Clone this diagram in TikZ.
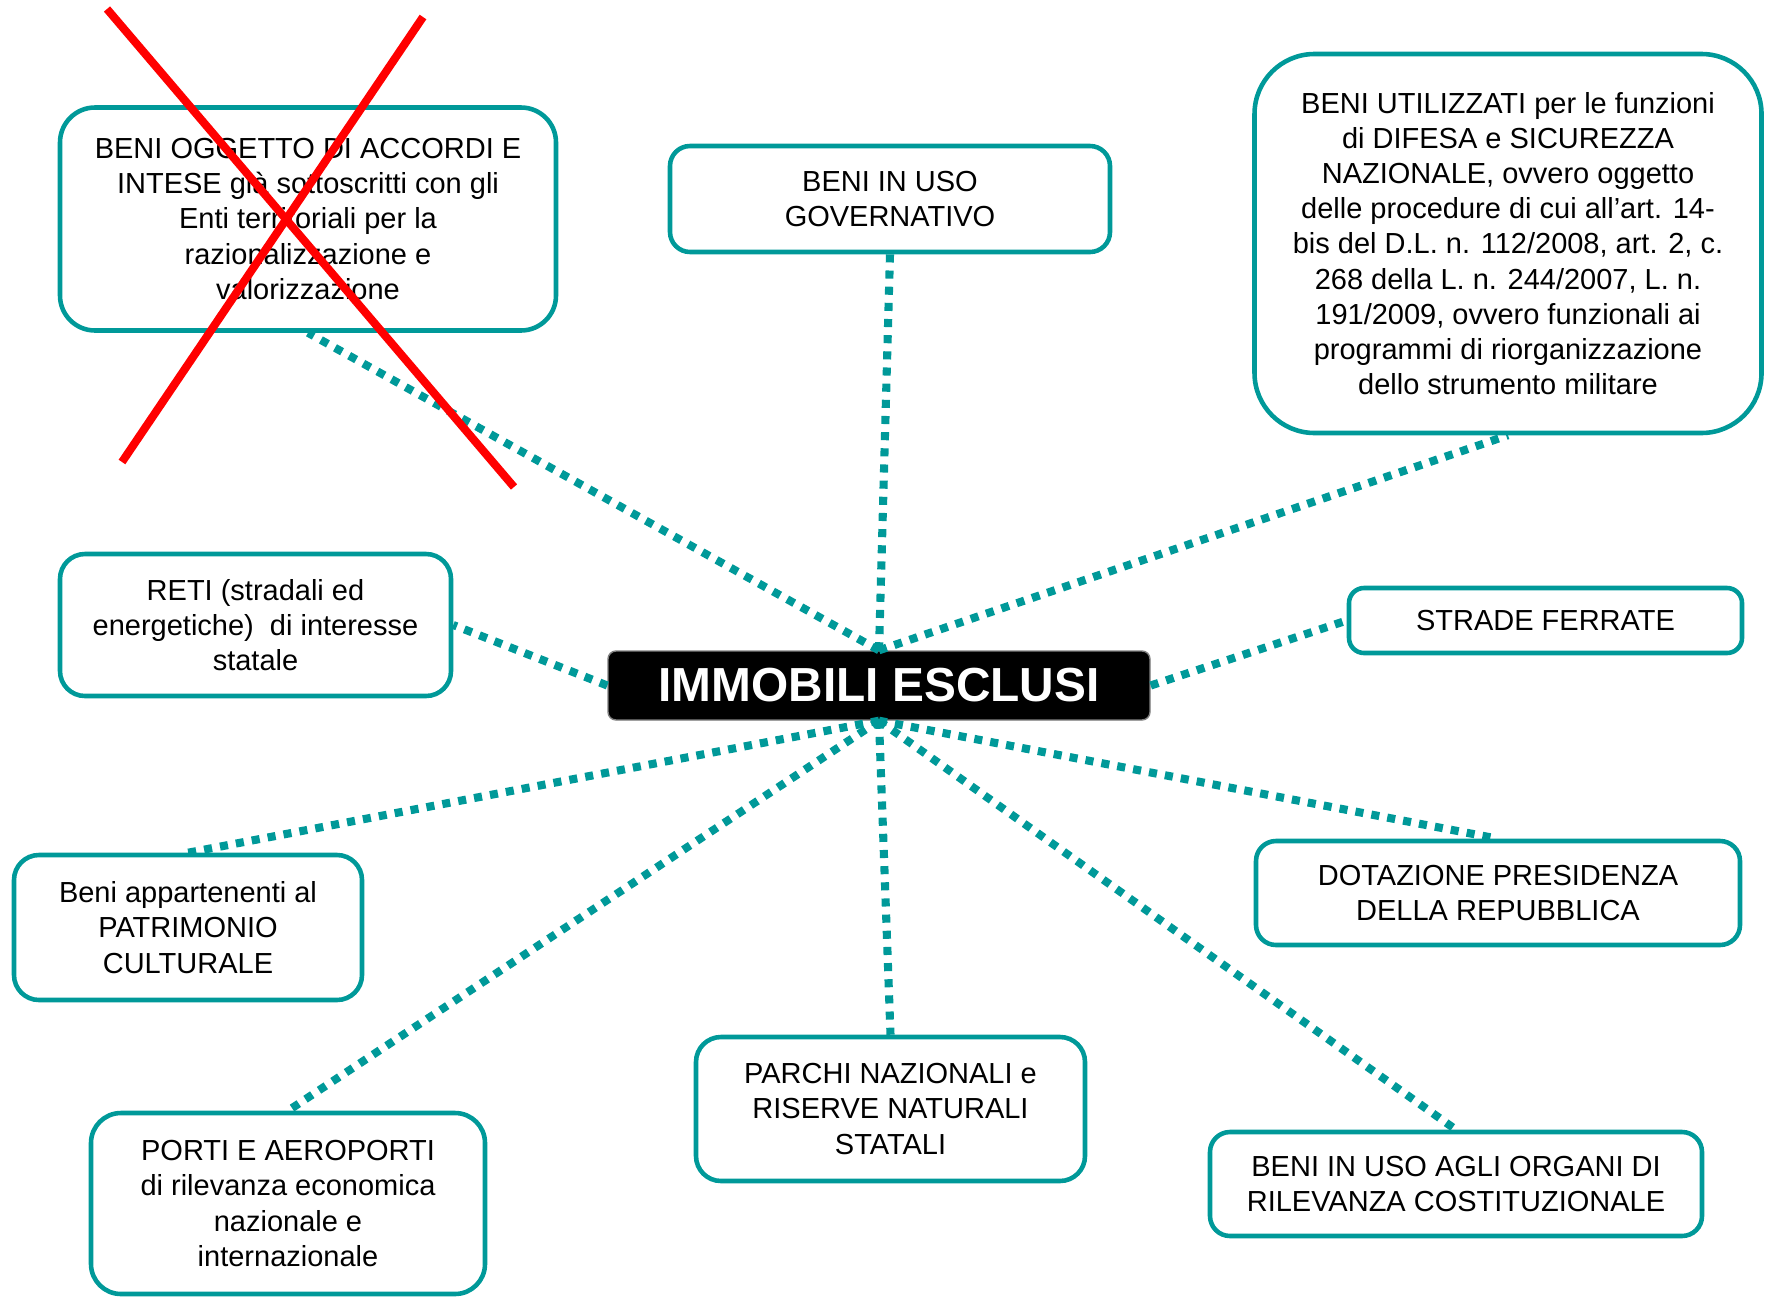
\documentclass[tikz,border=0pt]{standalone}
\usepackage{fontspec}
\setmainfont{Liberation Sans}
\usetikzlibrary{calc}
\definecolor{boxteal}{RGB}{0,153,153}

\begin{document}
\begin{tikzpicture}[
    cbox/.style={draw=boxteal, line width=1.3pt, rounded corners=0.25cm, align=center,
                 inner sep=2pt, font=\fontsize{8.25}{10}\selectfont},
    hubbox/.style={draw=gray, fill=black, text=white, line width=0.4pt, rounded corners=0.08cm,
                 font=\fontsize{13.6}{16}\selectfont\bfseries},
    link/.style={draw=boxteal, line width=2.3pt, dash pattern=on 2.3pt off 2.3pt},
    cross/.style={draw=red, line width=2.3pt}]
    \useasboundingbox (0,0) rectangle (17.67,-12.96);
		\node[hubbox, minimum width=5.42cm, minimum height=0.69cm] (centro) at (8.79,-6.855) {IMMOBILI ESCLUSI};
		\node[cbox, rounded corners=0.35cm, minimum width=4.96cm, minimum height=2.23cm] (accordi) at (3.08,-2.19)
		    {BENI OGGETTO DI ACCORDI E\\INTESE già sottoscritti con gli\\Enti territoriali per la\\razionalizzazione e\\valorizzazione};
		\node[cbox, rounded corners=0.2cm, minimum width=4.40cm, minimum height=1.06cm] (governo) at (8.90,-1.99)
		    {BENI IN USO\\GOVERNATIVO};
		\node[cbox, rounded corners=0.6cm, minimum width=5.07cm, minimum height=3.79cm] (difesa) at (15.08,-2.435)
		    {BENI UTILIZZATI per le funzioni\\di DIFESA e SICUREZZA\\NAZIONALE, ovvero oggetto\\delle procedure di cui all’art. 14-\\bis del D.L. n. 112/2008, art. 2, c.\\268 della L. n. 244/2007, L. n.\\191/2009, ovvero funzionali ai\\programmi di riorganizzazione\\dello strumento militare};
		\node[cbox, minimum width=3.91cm, minimum height=1.42cm] (reti) at (2.555,-6.25)
		    {RETI (stradali ed\\energetiche)\ \ di interesse\\statale};
		\node[cbox, rounded corners=0.15cm, minimum width=3.93cm, minimum height=0.65cm] (ferrate) at (15.455,-6.205)
		    {STRADE FERRATE};
		\node[cbox, minimum width=3.48cm, minimum height=1.45cm] (cultura) at (1.88,-9.275)
		    {Beni appartenenti al\\PATRIMONIO\\CULTURALE};
		\node[cbox, rounded corners=0.2cm, minimum width=4.84cm, minimum height=1.04cm] (presidenza) at (14.98,-8.93)
		    {DOTAZIONE PRESIDENZA\\DELLA REPUBBLICA};
		\node[cbox, minimum width=3.89cm, minimum height=1.44cm] (parchi) at (8.905,-11.09)
		    {PARCHI NAZIONALI e\\RISERVE NATURALI\\STATALI};
		\node[cbox, rounded corners=0.3cm, minimum width=3.94cm, minimum height=1.81cm] (porti) at (2.88,-12.035)
		    {PORTI E AEROPORTI\\di rilevanza economica\\nazionale e\\internazionale};
		\node[cbox, rounded corners=0.2cm, minimum width=4.92cm, minimum height=1.04cm] (organi) at (14.56,-11.84)
		    {BENI IN USO AGLI ORGANI DI\\RILEVANZA COSTITUZIONALE};
		%upper links
		\draw[link] (centro.north) to (accordi.south);
		\draw[link] (centro.north) to (governo.south);
		\draw[link] (centro.north) to (difesa.south);
		\draw[link] (centro.west) to (reti.east);
		\draw[link] (centro.east) to (ferrate.west);
		%lower links
		\draw[link] (centro.south) to (cultura.north);
		\draw[link] (centro.south) to (porti.north);
		\draw[link] (centro.south) to (parchi.north);
		\draw[link] (centro.south) to (organi.north);
		\draw[link] (centro.south) to (presidenza.north);
		%crossed out
		\coordinate (x1) at (1.07,-0.09);
		\coordinate (x2) at (5.14,-4.87);
		\coordinate (x3) at (4.23,-0.17);
		\coordinate (x4) at (1.22,-4.62);
		\draw[cross] (x1) to (x2);
		\draw[cross] (x3) to (x4);
\end{tikzpicture}
\end{document}
